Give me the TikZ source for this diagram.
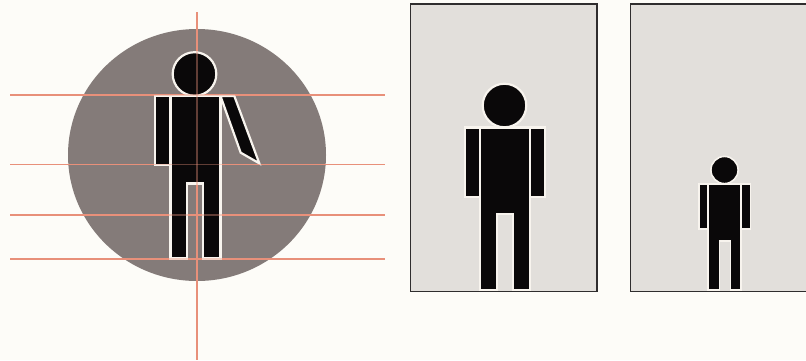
\documentclass[tikz,border=0pt]{standalone}
\definecolor{bgc}{HTML}{FDFCF8}
\definecolor{discc}{HTML}{847B79}
\definecolor{panelc}{HTML}{E2DFDB}
\definecolor{guidec}{HTML}{E8907A}
\definecolor{inkc}{HTML}{0A0809}
\definecolor{edgec}{HTML}{F8F4EE}
\tikzset{
  bodypart/.style={fill=inkc,draw=edgec,line width=2.2pt,line join=miter},
  smallpart/.style={fill=inkc,draw=edgec,line width=1.6pt,line join=miter},
  panelbox/.style={fill=panelc,draw=inkc!85,line width=1.1pt},
  panelrim/.style={draw=inkc!85,line width=1.1pt},
  guide/.style={draw=guidec,line width=1.2pt},
  guidefaint/.style={draw=guidec,line width=1.2pt,opacity=.4}
}
\begin{document}
\begin{tikzpicture}[x=1pt,y=-1pt]
\useasboundingbox (0,0) rectangle (806,360);
\fill[bgc] (0,0) rectangle (806,360);
% left figure
\fill[discc] (197,155) ellipse[x radius=129,y radius=126];
\foreach \yy in {95,164.5,215,259}{\draw[guide] (10,\yy) -- (385,\yy);}
\draw[guide] (197,12) -- (197,360);
\draw[bodypart] (155,96) rectangle (170.5,165);
\draw[bodypart] (220.5,96) -- (234.3,96) -- (259.3,163.3) -- (240.7,152.7) -- cycle;
\draw[bodypart] (170.5,96) -- (220.5,96) -- (220.5,258.5) -- (203,258.5) -- (203,183.5) -- (187,183.5) -- (187,258.5) -- (170.5,258.5) -- cycle;
\draw[bodypart] (194.5,74) circle[radius=21.8];
\foreach \yy in {95,164.5,215,259}{\draw[guidefaint] (152,\yy) -- (262,\yy);}
\draw[guidefaint] (197,52) -- (197,262);
% middle panel
\fill[panelc] (410.5,4) rectangle (597,291.5);
\draw[bodypart] (465,127.5) rectangle (480,197);
\draw[bodypart] (530,127.5) rectangle (545,197);
\draw[bodypart] (480,127.5) -- (530,127.5) -- (530,290) -- (513,290) -- (513,214) -- (497,214) -- (497,290) -- (480,290) -- cycle;
\draw[bodypart] (504.5,105.5) circle[radius=21.8];
\draw[panelrim] (410.5,4) rectangle (597,291.5);
% right panel
\fill[panelc] (630.5,4) rectangle (806,291.5);
\draw[smallpart] (699,184) rectangle (708,229);
\draw[smallpart] (741,184) rectangle (750.5,229);
\draw[smallpart] (708,184) -- (741,184) -- (741,290) -- (730.5,290) -- (730.5,241) -- (719.5,241) -- (719.5,290) -- (708,290) -- cycle;
\draw[smallpart] (724.5,170) circle[radius=13.6];
\draw[panelrim] (806,4) -- (630.5,4) -- (630.5,291.5) -- (806,291.5);
\end{tikzpicture}
\end{document}
